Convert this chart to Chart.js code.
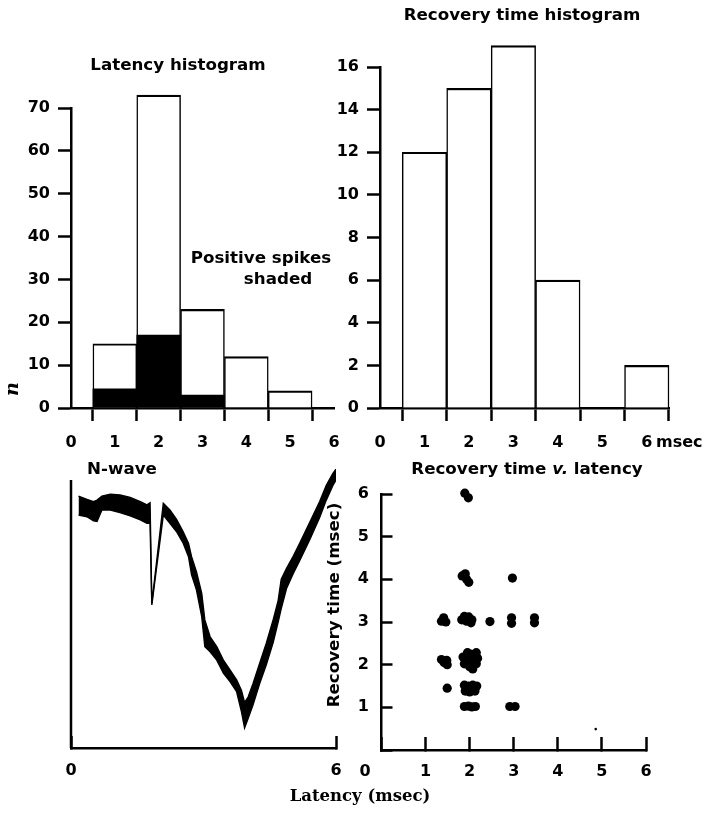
<!DOCTYPE html>
<html>
<head>
<meta charset="utf-8">
<script src="https://cdn.jsdelivr.net/npm/chart.js@4"></script>
<style>
  html, body { margin: 0; padding: 0; background: #fff; }
  #page { position: relative; width: 704px; height: 813px; background: #fff; }
  #page canvas { position: absolute; left: 0; top: 0; }
</style>
</head>
<body>
<div id="page">
  <canvas id="latencyChart" width="704" height="813"></canvas>
  <canvas id="recoveryChart" width="704" height="813"></canvas>
  <canvas id="nwaveChart" width="704" height="813"></canvas>
  <canvas id="scatterChart" width="704" height="813"></canvas>
</div>
<script>
// --- Data ---
// Latency histogram (bins centred on whole msec, 1 msec wide)
const latencyBins = [1, 2, 3, 4, 5];
const latencyTotal = [15, 73, 23, 12, 4];
const latencyPositive = [4.5, 17, 3, 0, 0];

// Recovery time histogram
const recoveryBins = [1, 2, 3, 4, 6];
const recoveryCounts = [12, 15, 17, 6, 2];

// N-wave trace: upper and lower edge of the inked band (arbitrary units)
const nwaveLatency = [0.17, 0.36, 0.51, 0.59, 0.70, 0.89, 1.11, 1.34, 1.57, 1.72, 1.79, 1.83,
  2.09, 2.24, 2.39, 2.54, 2.66, 2.73, 2.84, 2.96, 3.03, 3.15, 3.30, 3.45, 3.60, 3.75, 3.86, 3.93,
  4.01, 4.12, 4.27, 4.42, 4.58, 4.69, 4.76, 4.88, 5.03, 5.18, 5.40, 5.63, 5.78, 5.93, 6.00];
const nwaveUpper = [94.0, 92.8, 91.9, 92.5, 94.0, 94.7, 94.4, 93.5, 91.9, 90.7, 91.5, 54.0,
  91.3, 88.8, 85.3, 80.7, 76.4, 71.4, 65.8, 57.7, 47.8, 41.5, 37.8, 32.8, 29.1, 25.4, 21.5, 17.0,
  19.0, 24.0, 31.5, 39.0, 48.0, 55.0, 63.0, 67.0, 71.5, 76.5, 84.0, 92.0, 98.0, 102.5, 104.0];
const nwaveLower = [86.9, 86.3, 84.8, 84.5, 88.8, 88.8, 87.8, 86.6, 85.1, 83.8, 83.8, 53.4,
  86.9, 83.8, 80.7, 76.4, 71.4, 64.6, 59.0, 49.0, 37.8, 35.9, 32.8, 27.9, 24.8, 21.0, 13.5, 7.5,
  11.0, 16.0, 24.0, 31.0, 39.5, 47.0, 52.0, 59.5, 65.0, 70.0, 77.5, 86.0, 92.5, 98.0, 100.0];
const nwaveAxisTop = 100;

// Recovery time v. latency
const scatterLatency = [1.89, 1.97,
  1.83, 1.90, 1.93, 1.98, 2.97,
  1.36, 1.41, 1.46, 1.82, 1.88, 1.93, 1.98, 2.05, 2.03, 2.46, 2.95, 2.95, 3.47, 3.47,
  1.36, 1.42, 1.48, 1.49, 1.85, 1.88, 1.95, 2.00, 2.02, 2.08, 2.15, 2.15, 2.07, 1.95, 2.18,
  1.49, 1.88, 1.97, 2.07, 2.16, 1.90, 2.00, 2.12,
  1.88, 1.97, 2.05, 2.13, 2.91, 3.03];
const scatterRecovery = [6.02, 5.91,
  4.08, 4.13, 4.00, 3.93, 4.03,
  3.02, 3.10, 3.00, 3.05, 3.13, 3.02, 3.12, 3.05, 2.98, 3.01, 3.10, 2.97, 3.10, 2.98,
  2.12, 2.05, 2.10, 2.00, 2.18, 2.02, 2.12, 1.95, 2.25, 2.10, 2.28, 2.02, 1.90, 2.28, 2.15,
  1.45, 1.52, 1.50, 1.52, 1.50, 1.38, 1.36, 1.38,
  1.02, 1.03, 1.01, 1.02, 1.02, 1.02];
const strayMark = [{ x: 4.86, y: 0.49 }];

// --- Shared styling ---
Chart.defaults.font.family = 'DejaVu Sans';
Chart.defaults.color = '#000';

const tickFont = { family: 'DejaVu Sans', size: 16, weight: 'bold' };
const titleFont = 'bold 16.7px "DejaVu Sans"';
const AXIS_W = 70;
const AXIS_H = 60;

// chart area given in page pixels (all canvases cover the whole page)
function areaPadding(left, top, right, bottom) {
  return { left: left - AXIS_W, top: top, right: 704 - right, bottom: 813 - bottom - AXIS_H };
}
function pinY(scale) {
  scale.width = AXIS_W;
  scale.paddingTop = 0; scale.paddingBottom = 0; scale.paddingLeft = 0; scale.paddingRight = 0;
}
function pinX(scale) {
  scale.height = AXIS_H;
  scale.paddingTop = 0; scale.paddingBottom = 0; scale.paddingLeft = 0; scale.paddingRight = 0;
}

// free text placed on the page
function textPlugin(items) {
  return {
    id: 'freeText',
    afterDraw(chart) {
      const ctx = chart.ctx;
      items.forEach(item => {
        ctx.save();
        ctx.translate(item.x, item.y);
        if (item.rotate) ctx.rotate(item.rotate);
        ctx.fillStyle = '#000';
        ctx.textBaseline = 'middle';
        ctx.textAlign = 'left';
        const parts = item.parts || [{ text: item.text, font: item.font }];
        let total = 0;
        parts.forEach(p => { ctx.font = p.font; p.w = ctx.measureText(p.text).width; total += p.w; });
        let x = item.align === 'left' ? 0 : (item.align === 'right' ? -total : -total / 2);
        parts.forEach(p => { ctx.font = p.font; ctx.fillText(p.text, x, 0); x += p.w; });
        ctx.restore();
      });
    }
  };
}

function outsideAxis(extra) {
  return Object.assign({
    grid: { drawOnChartArea: false, drawTicks: true, tickLength: 13, tickWidth: 2.5, tickColor: '#000' },
    border: { display: true, color: '#000', width: 2.5 }
  }, extra);
}

const common = {
  responsive: false,
  animation: false,
  events: [],
  plugins: { legend: { display: false }, tooltip: { enabled: false }, title: { display: false } }
};

// --- Latency histogram ---
new Chart(document.getElementById('latencyChart'), {
  type: 'bar',
  data: {
    datasets: [
      {
        label: 'Positive spikes',
        data: latencyBins.map((b, i) => ({ x: b, y: latencyPositive[i] })),
        backgroundColor: '#000',
        borderWidth: 0,
        grouped: false, clip: false,
        barPercentage: 1, categoryPercentage: 1
      },
      {
        label: 'All spikes',
        data: latencyBins.map((b, i) => ({ x: b, y: latencyTotal[i] })),
        backgroundColor: '#fff',
        borderColor: '#000',
        borderWidth: { top: 2.2, left: 1.5, right: 1.5, bottom: 0 },
        borderSkipped: false,
        grouped: false, clip: false,
        barPercentage: 1, categoryPercentage: 1
      }
    ]
  },
  options: Object.assign({}, common, {
    layout: { padding: areaPadding(71, 108, 334, 408) },
    scales: {
      x: outsideAxis({
        type: 'linear', min: 0, max: 6, offset: false,
        ticks: { stepSize: 1, font: tickFont, padding: 12, color: '#000' },
        afterFit: pinX
      }),
      y: outsideAxis({
        min: 0, max: 70,
        ticks: { stepSize: 10, font: tickFont, padding: 8, color: '#000' },
        afterFit: pinY
      })
    }
  }),
  plugins: [textPlugin([
    { text: 'Latency histogram', font: titleFont, x: 178, y: 66 },
    { text: 'Positive spikes', font: titleFont, x: 261, y: 259 },
    { text: 'shaded', font: titleFont, x: 278, y: 280 },
    { text: 'n', font: 'italic bold 19px "DejaVu Serif"', x: 13, y: 389, rotate: -Math.PI / 2 }
  ])]
});

// --- Recovery time histogram ---
new Chart(document.getElementById('recoveryChart'), {
  type: 'bar',
  data: {
    datasets: [{
      label: 'Recovery time',
      data: recoveryBins.map((b, i) => ({ x: b, y: recoveryCounts[i] })),
      backgroundColor: '#fff',
      borderColor: '#000',
      borderWidth: { top: 2.2, left: 1.5, right: 1.5, bottom: 0 },
      borderSkipped: false,
      clip: false,
      barPercentage: 1, categoryPercentage: 1
    }]
  },
  options: Object.assign({}, common, {
    layout: { padding: areaPadding(380, 67, 669, 408) },
    scales: {
      x: outsideAxis({
        type: 'linear', min: 0, max: 6.5, offset: false,
        ticks: { stepSize: 1, includeBounds: false, font: tickFont, padding: 12, color: '#000' },
        afterFit: pinX
      }),
      y: outsideAxis({
        min: 0, max: 16,
        ticks: { stepSize: 2, font: tickFont, padding: 8, color: '#000' },
        afterFit: pinY
      })
    }
  }),
  plugins: [textPlugin([
    { text: 'Recovery time histogram', font: titleFont, x: 522, y: 16 },
    { text: 'msec', font: 'bold 16px "DejaVu Sans"', x: 656, y: 443, align: 'left' }
  ])]
});

// --- N-wave ---
const nwaveYAxis = {
  id: 'nwaveYAxis',
  afterDraw(chart) {
    const { ctx, scales: { x, y } } = chart;
    ctx.save();
    ctx.strokeStyle = '#000';
    ctx.lineWidth = 2.5;
    ctx.beginPath();
    ctx.moveTo(x.getPixelForValue(0), y.getPixelForValue(0));
    ctx.lineTo(x.getPixelForValue(0), y.getPixelForValue(nwaveAxisTop));
    ctx.stroke();
    ctx.restore();
  }
};

new Chart(document.getElementById('nwaveChart'), {
  type: 'line',
  data: {
    datasets: [
      {
        label: 'upper edge',
        data: nwaveLatency.map((t, i) => ({ x: t, y: nwaveUpper[i] })),
        borderColor: '#000', borderWidth: 1.4, pointRadius: 0, tension: 0, fill: false
      },
      {
        label: 'lower edge',
        data: nwaveLatency.map((t, i) => ({ x: t, y: nwaveLower[i] })),
        borderColor: '#000', borderWidth: 1.4, pointRadius: 0, tension: 0,
        fill: '-1', backgroundColor: '#000'
      }
    ]
  },
  options: Object.assign({}, common, {
    layout: { padding: areaPadding(71, 748 - 105 * 2.68, 336, 748) },
    scales: {
      x: {
        type: 'linear', min: 0, max: 6, offset: false,
        ticks: { stepSize: 6, font: tickFont, padding: 25, color: '#000' },
        grid: { drawOnChartArea: false, drawTicks: true, tickLength: -12, tickWidth: 2.5, tickColor: '#000' },
        border: { display: true, color: '#000', width: 2.5 },
        afterFit: pinX
      },
      y: {
        min: 0, max: 105,
        ticks: { display: false },
        grid: { display: false },
        border: { display: false },
        afterFit: pinY
      }
    }
  }),
  plugins: [nwaveYAxis, textPlugin([
    { text: 'N-wave', font: titleFont, x: 122, y: 470 },
    { text: 'Recovery time (msec)', font: titleFont, x: 335, y: 605, rotate: -Math.PI / 2 },
    { text: 'Latency (msec)', font: 'bold 16.5px "DejaVu Serif"', x: 360, y: 797 }
  ])]
});

// --- Recovery time v. latency ---
new Chart(document.getElementById('scatterChart'), {
  type: 'scatter',
  data: {
    datasets: [
      {
        label: 'Recovery time v. latency',
        data: scatterLatency.map((t, i) => ({ x: t, y: scatterRecovery[i] })),
        backgroundColor: '#000', borderWidth: 0, pointRadius: 4.6, clip: false
      },
      {
        label: 'mark',
        data: strayMark,
        backgroundColor: '#000', borderWidth: 0, pointRadius: 1.3, clip: false
      }
    ]
  },
  options: Object.assign({}, common, {
    layout: { padding: areaPadding(381.5, 494, 646, 750) },
    scales: {
      x: {
        type: 'linear', min: 0, max: 6,
        ticks: { stepSize: 1, font: tickFont, padding: 25.5, color: '#000', callback: v => (v === 0 ? '' : v) },
        grid: { drawOnChartArea: false, drawTicks: true, tickLength: -13, tickWidth: 2.5, tickColor: '#000' },
        border: { display: true, color: '#000', width: 2.5 },
        afterFit: pinX
      },
      y: {
        min: 0, max: 6,
        ticks: { stepSize: 1, font: tickFont, padding: 23.5, color: '#000', callback: v => (v === 0 ? '' : v) },
        grid: { drawOnChartArea: false, drawTicks: true, tickLength: -11, tickWidth: 2.5, tickColor: '#000' },
        border: { display: true, color: '#000', width: 2.5 },
        afterFit: pinY
      }
    }
  }),
  plugins: [textPlugin([
    {
      x: 527, y: 470,
      parts: [
        { text: 'Recovery time ', font: titleFont },
        { text: 'v.', font: 'italic bold 16.7px "DejaVu Sans"' },
        { text: ' latency', font: titleFont }
      ]
    },
    { text: '0', font: 'bold 16px "DejaVu Sans"', x: 365, y: 772 }
  ])]
});
</script>
</body>
</html>
